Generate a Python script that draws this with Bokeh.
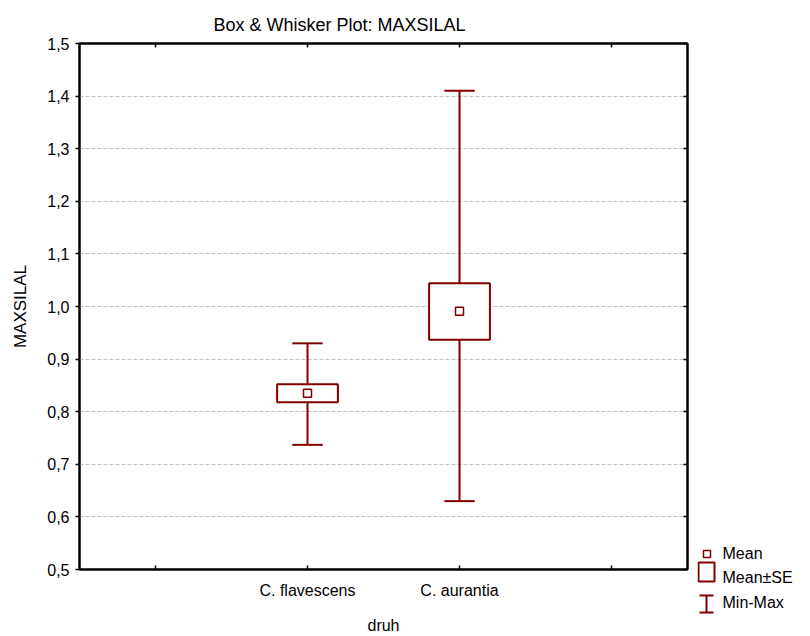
from bokeh.plotting import figure
from bokeh.models import LinearAxis, FixedTicker, Range1d, ColumnDataSource, Title
from bokeh.layouts import row
from bokeh.core.properties import value
from bokeh.embed import file_html
from bokeh.resources import INLINE

# ---- data ----
categories = ["C. flavescens", "C. aurantia"]
means = [0.835, 0.991]
se_low = [0.818, 0.937]
se_high = [0.852, 1.044]
mins = [0.737, 0.630]
maxs = [0.930, 1.410]

y_ticks = [0.5, 0.6, 0.7, 0.8, 0.9, 1.0, 1.1, 1.2, 1.3, 1.4, 1.5]
y_tick_labels = ["0,5", "0,6", "0,7", "0,8", "0,9", "1,0", "1,1", "1,2", "1,3", "1,4", "1,5"]

title_text = "Box & Whisker Plot: MAXSILAL"
x_label = "druh"
y_label = "MAXSILAL"
legend_labels = ["Mean", "Mean\u00b1SE", "Min-Max"]

# ---- derived positions ----
n = len(categories)
x_pos = [i + 1.5 for i in range(n)]
x_edge_ticks = [0.5, n + 1.5]

RED = "#800000"
FONT = "Liberation Sans"
FS = "16px"

src = ColumnDataSource(dict(
    x=x_pos, mean=means, lo=se_low, hi=se_high, mn=mins, mx=maxs,
    box_l=[x - 0.2 for x in x_pos], box_r=[x + 0.2 for x in x_pos],
    cap_l=[x - 0.1 for x in x_pos], cap_r=[x + 0.1 for x in x_pos],
))

MAIN_W = 697
p = figure(width=MAIN_W, height=636, output_backend="svg", toolbar_location=None,
           x_range=Range1d(0, n + 2), y_range=Range1d(0.5, 1.5),
           min_border_left=79, min_border_right=10, min_border_top=43,
           min_border_bottom=67, background_fill_color="white",
           border_fill_color="white")
p.frame_align = False

p.title = Title(text=title_text, align="left", offset=134,
                text_font=FONT, text_font_size="18px", text_font_style="normal",
                text_color="black", standoff=17)

# whiskers
p.segment(x0="x", y0="mn", x1="x", y1="mx", source=src, line_color=RED, line_width=2)
p.segment(x0="cap_l", y0="mn", x1="cap_r", y1="mn", source=src, line_color=RED, line_width=2)
p.segment(x0="cap_l", y0="mx", x1="cap_r", y1="mx", source=src, line_color=RED, line_width=2)
# SE box
p.quad(left="box_l", right="box_r", bottom="lo", top="hi", source=src,
       fill_color="white", line_color=RED, line_width=2)
# mean
p.scatter(x="x", y="mean", source=src, marker="square", size=8,
          fill_color="white", line_color=RED, line_width=1.5)

# axes
xa = p.xaxis[0]
xa.ticker = FixedTicker(ticks=x_pos, minor_ticks=x_edge_ticks)
xa.major_label_overrides = {xp: c for xp, c in zip(x_pos, categories)}
xa.major_tick_in = 4
xa.major_tick_out = 0
xa.minor_tick_in = 4
xa.minor_tick_out = 0
xa.major_tick_line_width = 1.5
xa.minor_tick_line_width = 1.5
xa.minor_tick_line_color = "black"
xa.axis_line_width = 2
xa.major_label_text_font = FONT
xa.major_label_text_font_size = FS
xa.major_label_text_color = "black"
xa.major_label_standoff = 12
xa.axis_label = x_label
xa.axis_label_text_font = FONT
xa.axis_label_text_font_size = FS
xa.axis_label_text_font_style = "normal"
xa.axis_label_text_color = "black"
xa.axis_label_standoff = 15

ya = p.yaxis[0]
ya.ticker = FixedTicker(ticks=y_ticks)
ya.major_label_overrides = {t: l for t, l in zip(y_ticks, y_tick_labels)}
ya.major_tick_in = 0
ya.major_tick_out = 4
ya.minor_tick_line_color = None
ya.axis_line_width = 2
ya.major_tick_line_width = 1.5
ya.major_label_text_font = FONT
ya.major_label_text_font_size = FS
ya.major_label_text_color = "black"
ya.major_label_standoff = 6
ya.axis_label = y_label
ya.axis_label_text_font = FONT
ya.axis_label_text_font_size = "17px"
ya.axis_label_text_font_style = "normal"
ya.axis_label_text_color = "black"
ya.axis_label_standoff = 14

top_axis = LinearAxis(ticker=FixedTicker(ticks=x_pos, minor_ticks=x_edge_ticks),
                      major_tick_in=4, major_tick_out=0, minor_tick_in=4, minor_tick_out=0,
                      minor_tick_line_color="black", minor_tick_line_width=1.5,
                      axis_line_width=2, major_tick_line_width=1.5,
                      major_label_text_font_size="1px", major_label_text_color=None,
                      major_label_standoff=0)
right_axis = LinearAxis(ticker=FixedTicker(ticks=y_ticks), major_tick_in=4, major_tick_out=0,
                        minor_tick_line_color=None, axis_line_width=2,
                        major_tick_line_width=1.5, major_label_text_font_size="1px",
                        major_label_text_color=None, major_label_standoff=0)
p.add_layout(top_axis, "above")
p.add_layout(right_axis, "right")

p.xgrid.grid_line_color = None
p.ygrid.ticker = FixedTicker(ticks=y_ticks)
p.ygrid.grid_line_color = "#c0c0c0"
p.ygrid.grid_line_dash = "4 2"
p.ygrid.grid_line_width = 1
p.outline_line_color = "black"
p.outline_line_width = 2

# ---- legend panel (pixel coordinates of the page) ----
lg = figure(width=810 - MAIN_W, height=636, output_backend="svg", toolbar_location=None,
            x_range=Range1d(MAIN_W, 810), y_range=Range1d(636, 0),
            min_border=0, min_border_left=0, min_border_right=0,
            min_border_top=0, min_border_bottom=0)
lg.frame_align = False
lg.axis.visible = False
lg.grid.visible = False
lg.outline_line_color = None
lg.quad(left=[703], right=[710], top=[550], bottom=[557], fill_color="white",
        line_color=RED, line_width=1.5)
lg.quad(left=[698], right=[714], top=[562], bottom=[581], fill_color="white",
        line_color=RED, line_width=2)
lg.segment(x0=[706, 699, 699], y0=[595, 595, 612], x1=[706, 713, 713], y1=[612, 595, 612],
           line_color=RED, line_width=2)
lg.text(x=[722, 722, 722], y=[553, 577, 602], text=legend_labels,
        text_font=value(FONT), text_font_size=FS, text_baseline="middle",
        text_align="left", text_color="black")

layout = row(p, lg, spacing=0)
open("out.html", "w").write(file_html(layout, INLINE))
